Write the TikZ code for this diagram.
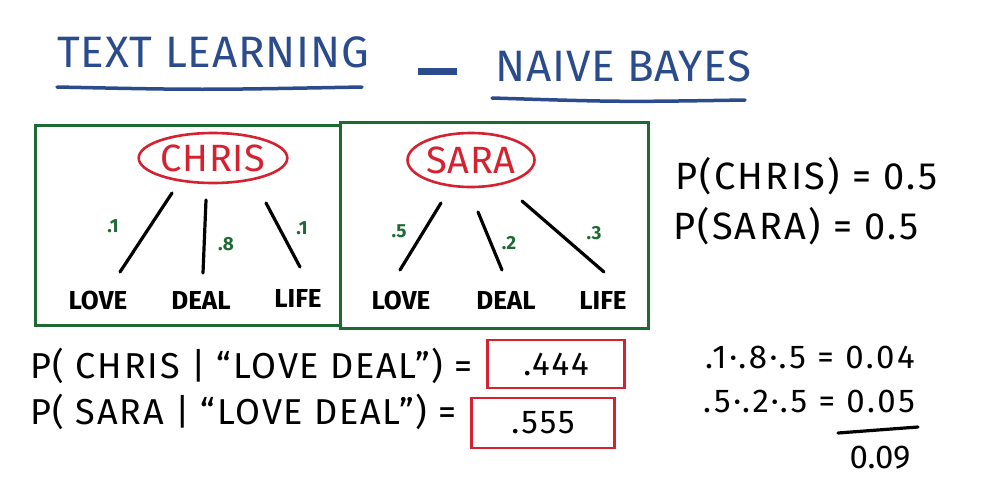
\documentclass[tikz,border=0pt]{standalone}
\usepackage{fontspec}
\setmainfont{Fira Sans}
\usetikzlibrary{shapes.geometric}
\definecolor{inkblue}{HTML}{2B4C8C}
\definecolor{inkgreen}{HTML}{1F6A33}
\definecolor{inkred}{HTML}{D42230}
\tikzset{
  title/.style={text=inkblue,font=\fontsize{44}{46}\selectfont\addfontfeature{LetterSpace=2},inner sep=0pt},
  uline/.style={draw=inkblue,line width=3.5pt,line cap=round},
  frame/.style={draw=inkgreen,line width=3pt},
  person/.style={ellipse,draw=inkred,line width=2.6pt,text=inkred,font=\fontsize{38}{40}\selectfont\addfontfeature{LetterSpace=2},inner sep=0pt},
  word/.style={font=\fontsize{26}{28}\selectfont\bfseries,inner sep=0pt},
  prob/.style={text=inkgreen,font=\fontsize{19}{21}\selectfont\bfseries,inner sep=0pt},
  edge/.style={line width=3.2pt,line cap=round},
  eqn/.style={font=\fontsize{38}{40}\selectfont\addfontfeature{LetterSpace=6},inner sep=0pt},
  beq/.style={font=\fontsize{36}{38}\selectfont\addfontfeature{LetterSpace=5},inner sep=0pt},
  calc/.style={font=\fontsize{33}{35}\selectfont\addfontfeature{LetterSpace=8},inner sep=0pt},
  ans/.style={draw=inkred,line width=2.6pt,minimum width=137pt,minimum height=48pt,font=\fontsize{33}{35}\selectfont\addfontfeature{LetterSpace=6},inner sep=0pt},
}
\begin{document}
\begin{tikzpicture}[x=1pt,y=-1pt]
\useasboundingbox (0,0) rectangle (981,487);
% title
\node[title,anchor=west] (t1) at (57,52) {TEXT LEARNING};
\node[title,anchor=west] (t2) at (495,66) {NAIVE BAYES};
\draw[uline] (57,87) .. controls (200,90) .. (362,87);
\draw[uline] (492,98) .. controls (620,102) .. (745,100);
\draw[draw=inkblue,line width=7pt] (418,71) -- (457,71);
% frames
\node[frame,minimum width=305pt,minimum height=200pt,inner sep=0pt] (fc) at (187.5,225) {};
\node[frame,minimum width=308pt,minimum height=206pt,inner sep=0pt] (fs) at (494,225) {};
% Chris tree
\node[person,minimum width=145pt,minimum height=50pt] (chris) at (213,158) {CHRIS};
\node[word] (cl) at (98,300) {LOVE};
\node[word] (cd) at (201,300) {DEAL};
\node[word] (cf) at (298,298) {LIFE};
\coordinate (c1a) at (172,193); \coordinate (c1b) at (120,272);
\coordinate (c2a) at (206,200); \coordinate (c2b) at (203,273);
\coordinate (c3a) at (266,203); \coordinate (c3b) at (300,267);
\draw[edge] (c1a) -- (c1b);
\draw[edge] (c2a) -- (c2b);
\draw[edge] (c3a) -- (c3b);
\node[prob] (p1) at (113,226) {.1};
\node[prob] (p2) at (226,244) {.8};
\node[prob] (p3) at (302,228) {.1};
% Sara tree
\node[person,minimum width=127pt,minimum height=54pt] (sara) at (471,160) {SARA};
\node[word] (sl) at (401,300) {LOVE};
\node[word] (sd) at (506,300) {DEAL};
\node[word] (sf) at (603,300) {LIFE};
\coordinate (s1a) at (441,203); \coordinate (s1b) at (400,270);
\coordinate (s2a) at (478,212); \coordinate (s2b) at (502,270);
\coordinate (s3a) at (522,201); \coordinate (s3b) at (604,272);
\draw[edge] (s1a) -- (s1b);
\draw[edge] (s2a) -- (s2b);
\draw[edge] (s3a) -- (s3b);
\node[prob] (q1) at (399,231) {.5};
\node[prob] (q2) at (509,243) {.2};
\node[prob] (q3) at (594,233) {.3};
% priors
\node[eqn,anchor=west] (pc) at (675,176) {P(CHRIS) = 0.5};
\node[eqn,anchor=west] (ps) at (673,226) {P(SARA) = 0.5};
% posteriors
\node[beq,anchor=west] (ec) at (30,366) {P( CHRIS | “LOVE DEAL”) =};
\node[beq,anchor=west] (es) at (30,412) {P( SARA | “LOVE DEAL”) =};
\node[ans] (ac) at (556,364) {.444};
\node[ans,minimum width=143pt,minimum height=50pt] (as) at (543,423) {.555};
% calculation
\node[calc,anchor=west] (k1) at (705,357) {.1·.8·.5 = 0.04};
\node[calc,anchor=west] (k2) at (703,401) {.5·.2·.5 = 0.05};
\coordinate (sa) at (838,433); \coordinate (sb) at (918,427);
\draw[edge] (sa) -- (sb);
\node[calc,font=\fontsize{33}{35}\selectfont] (k3) at (880,458) {0.09};
\end{tikzpicture}
\end{document}
